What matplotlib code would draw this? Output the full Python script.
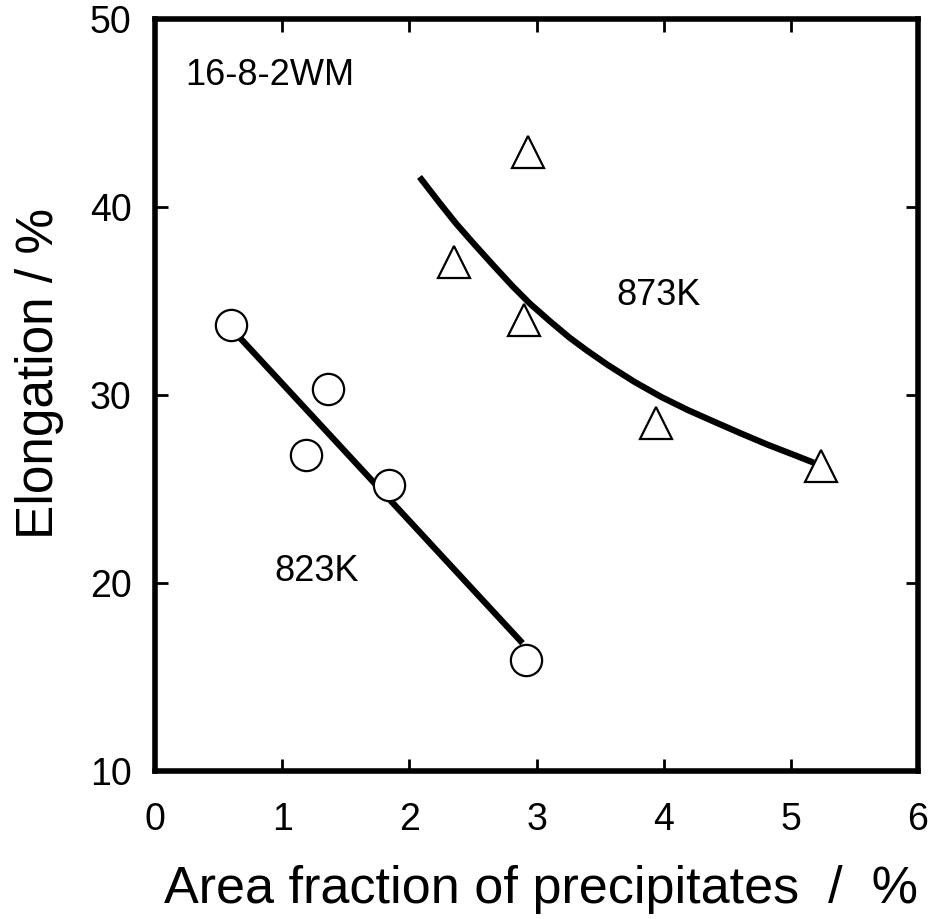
import matplotlib
matplotlib.use("Agg")
import matplotlib.pyplot as plt

plt.rcParams["font.family"] = ["Liberation Sans", "DejaVu Sans"]

# 823 K specimens
x_823 = [0.60, 1.36, 1.19, 1.84, 2.92]
y_823 = [33.7, 30.3, 26.8, 25.2, 15.9]
# straight trend line for 823 K (end points)
line_823_x = [0.66, 2.89]
line_823_y = [33.1, 16.8]

# 873 K specimens
x_873 = [2.93, 2.35, 2.90, 3.94, 5.24]
y_873 = [42.9, 37.1, 34.0, 28.5, 26.2]
# curved trend for 873 K
curve_873_x = [2.08, 2.24, 2.37, 2.50, 2.66, 2.81, 2.95, 3.11, 3.26, 3.40,
               3.56, 3.77, 3.98, 4.19, 4.40, 4.61, 4.82, 5.03, 5.18]
curve_873_y = [41.6, 40.2, 39.1, 38.1, 36.9, 35.8, 34.85, 33.9, 33.05, 32.35,
               31.6, 30.7, 29.9, 29.2, 28.57, 27.95, 27.35, 26.8, 26.4]

x_ticks = [0, 1, 2, 3, 4, 5, 6]
y_ticks = [10, 20, 30, 40, 50]

fig = plt.figure(figsize=(9.33, 9.19), dpi=100)
ax = fig.add_axes([155 / 933, 1 - 771 / 919, (918 - 155) / 933, (771 - 19) / 919])

ax.plot(line_823_x, line_823_y, color="black", lw=4.5, solid_capstyle="butt", zorder=2)
ax.plot(curve_873_x, curve_873_y, color="black", lw=4.5, solid_capstyle="butt",
        solid_joinstyle="round", zorder=2)

ax.plot(x_823, y_823, linestyle="none", marker="o", ms=22.5, mfc="white",
        mec="black", mew=1.6, zorder=3)
ax.plot(x_873, y_873, linestyle="none", marker="^", ms=23, mfc="white",
        mec="black", mew=1.6, zorder=3)

ax.set_xlim(0, 6)
ax.set_ylim(10, 50)
ax.set_xticks(x_ticks)
ax.set_yticks(y_ticks)
ax.set_xticklabels([str(v) for v in x_ticks], fontsize=27)
ax.set_yticklabels([str(v) for v in y_ticks], fontsize=27)
ax.tick_params(direction="in", length=9, width=2, top=True, right=True)
ax.tick_params(axis="x", pad=22)
ax.tick_params(axis="y", pad=17)

for sp in ax.spines.values():
    sp.set_linewidth(4)

ax.text(0.24, 47.0, "16-8-2WM", fontsize=26, ha="left", va="center")
ax.text(3.96, 35.3, "873K", fontsize=26, ha="center", va="center")
ax.text(1.27, 20.6, "823K", fontsize=26, ha="center", va="center")

fig.text(541 / 933, 1 - 903 / 919, "Area fraction of precipitates  /  %",
         fontsize=37.5, ha="center", va="baseline")
fig.text(53 / 933, 1 - 373 / 919, "Elongation / %", fontsize=37, rotation=90,
         rotation_mode="anchor", ha="center", va="baseline")

fig.savefig("out.png", dpi=100, facecolor="white")
